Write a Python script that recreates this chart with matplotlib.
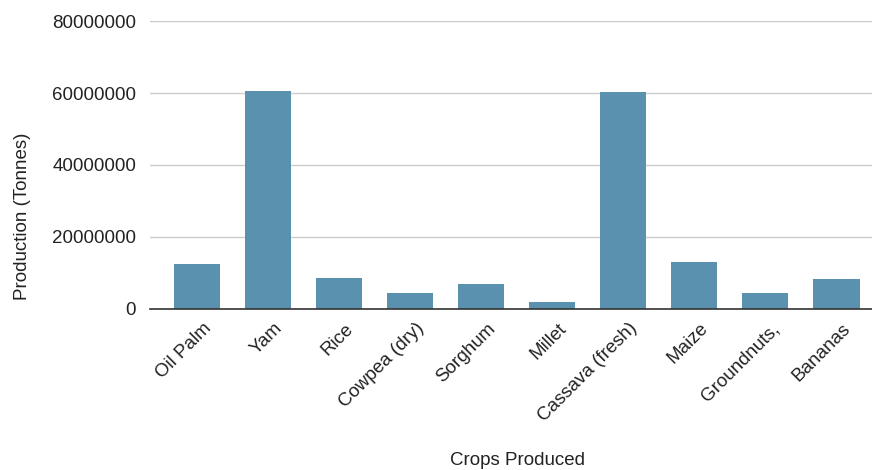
import matplotlib.pyplot as plt
from matplotlib.transforms import ScaledTranslation

crops = ['Oil Palm', 'Yam', 'Rice', 'Cowpea (dry)', 'Sorghum', 'Millet',
         'Cassava (fresh)', 'Maize', 'Groundnuts,', 'Bananas']
production = [12500000, 60700000, 8700000, 4400000, 7000000, 1800000,
              60200000, 12900000, 4400000, 8300000]
yticks = [0, 20000000, 40000000, 60000000, 80000000]

plt.rcParams['font.family'] = ['Liberation Sans', 'DejaVu Sans']

fig = plt.figure(figsize=(8.72, 4.70), dpi=100)
ax = fig.add_axes([0.172, 0.343, 0.828, 0.612])

ax.bar(range(len(crops)), production, width=0.65, color='#5991ae', zorder=3)

ax.set_ylim(0, 80000000)
ax.set_xlim(-0.66, len(crops) - 0.5)
ax.set_yticks(yticks)
ax.set_yticklabels([str(v) for v in yticks], fontsize=13.5, color='#222222')
ax.set_xticks(range(len(crops)))
ax.set_xticklabels(crops, rotation=45, ha='right', va='top',
                   rotation_mode='anchor', fontsize=13.5, color='#222222')

ax.grid(axis='y', color='#cccccc', linewidth=1, zorder=0)
for s in ['top', 'right', 'left']:
    ax.spines[s].set_visible(False)
ax.spines['bottom'].set_color('#333333')
ax.spines['bottom'].set_linewidth(1.2)
ax.spines['bottom'].set_zorder(4)
ax.tick_params(axis='both', length=0)
ax.tick_params(axis='y', pad=10)
ax.tick_params(axis='x', pad=8)

# nudge the rotated labels a little to the right, like the original
shift = ScaledTranslation(4 / 72, 0, fig.dpi_scale_trans)
for lbl in ax.get_xticklabels():
    lbl.set_transform(lbl.get_transform() + shift)

ax.set_ylabel('Production (Tonnes)', fontsize=13.5, color='#222222')
ax.yaxis.set_label_coords(-0.165, 0.323)
fig.text(0.593, 0.01, 'Crops Produced', fontsize=13.5, color='#222222', ha='center')

plt.savefig('out.png', dpi=100)
